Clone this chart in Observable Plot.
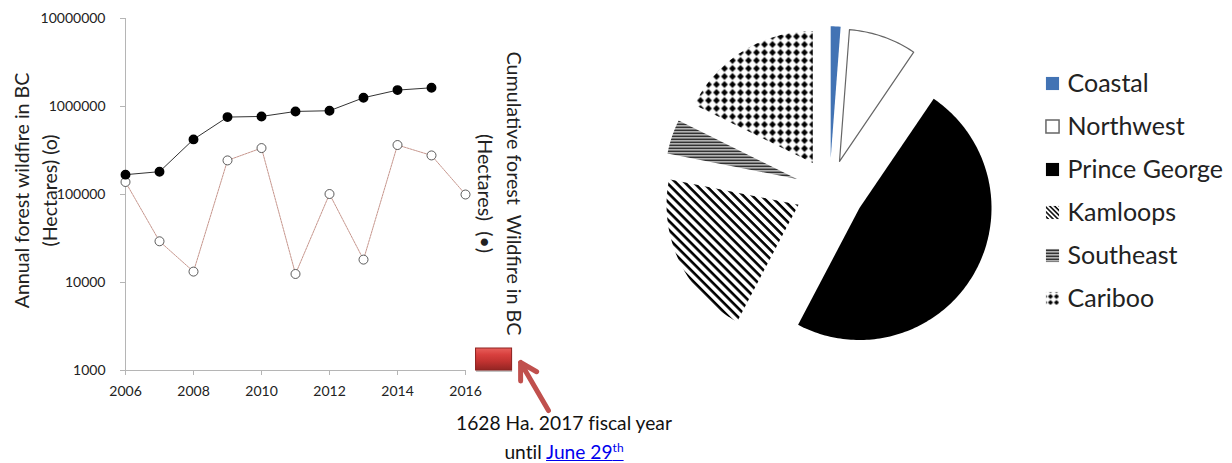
<!DOCTYPE html>
<html><head><meta charset="utf-8">
<script src="https://cdn.jsdelivr.net/npm/d3@7"></script>
<script src="https://cdn.jsdelivr.net/npm/@observablehq/plot@0.6"></script>
<style>
html,body{margin:0;padding:0;background:#fff;width:1232px;height:463px;overflow:hidden;position:relative;font-family:Lato,sans-serif}
.abs{position:absolute}
.abs svg{display:block}
#note{left:404px;top:408px;width:320px;text-align:center;font-size:19.2px;line-height:29px;color:#111;font-variant-ligatures:none}
#note a{color:#0000ee}
#note sup{font-size:12px;line-height:0}
</style></head><body>
<div id="line" class="abs" style="left:0;top:0"></div>
<div id="pie" class="abs" style="left:640px;top:0"></div>
<div id="legend" class="abs" style="left:1030px;top:60px"></div>
<div id="note" class="abs">1628 Ha. 2017 fiscal year<br>until <a href="#">June 29<sup>th</sup></a></div>
<script>
const years=[2006,2007,2008,2009,2010,2011,2012,2013,2014,2015,2016];
const cumulative=[168000,181700,423000,758000,771000,879000,895000,1257000,1536000,1632000];
const annual=[138700,29400,13300,244000,337000,12500,101300,18200,365000,278000,100000];
const regions=["Coastal","Northwest","Prince George","Kamloops","Southeast","Cariboo"];
const shares=[1.2,8.3,48.2,20.4,4.2,17.7];
const explode=[.24,.23,.265,.26,.26,.24];
const fills=["#4273b4","#fff","#000","url(#pKam)","url(#pSE)","url(#pCar)"];
const legendFills=["#4273b4","#fff","#000","url(#pKamS)","url(#pSE)","url(#pCarS)"];
const strokes=["none","#666","none","none","none","none"];
const yTicks=[1000,10000,100000,1000000,10000000];
const xTicks=[2006,2008,2010,2012,2014,2016];
const FONT="Lato,sans-serif";

const cumData=cumulative.map((v,i)=>({x:years[i],y:v}));
const annData=annual.map((v,i)=>({x:years[i],y:v}));

const gradDefs=()=>{
  const d=d3.create("svg:defs");
  d.html(`<linearGradient id="gRed" x1="0" y1="0" x2="0" y2="1">
    <stop offset="0" stop-color="#e8605c"/><stop offset=".3" stop-color="#d8403e"/>
    <stop offset=".6" stop-color="#c23331"/><stop offset="1" stop-color="#932523"/></linearGradient>`);
  return d.node();
};

document.getElementById("line").append(Plot.plot({
  width:640,height:463,marginLeft:125,marginRight:175,marginTop:18,marginBottom:93,
  style:{fontFamily:FONT,fontSize:"14px",background:"transparent",overflow:"visible"},
  x:{domain:[2006,2016],label:null},
  y:{type:"log",domain:[1000,10000000],label:null},
  marks:[
    gradDefs,
    Plot.ruleX([2006],{stroke:"#b5b5b5"}),
    Plot.ruleY([1000],{stroke:"#b5b5b5"}),
    Plot.axisX({ticks:xTicks,tickFormat:"d",tickSize:5,tickPadding:11,stroke:"#b5b5b5",fill:"#222",label:null}),
    Plot.axisY({ticks:yTicks,tickFormat:"d",tickSize:5,tickPadding:15,stroke:"#b5b5b5",fill:"#222",label:null}),
    Plot.line(annData,{x:"x",y:"y",stroke:"#c08a80",strokeWidth:.9,strokeDasharray:"2 1"}),
    Plot.line(cumData,{x:"x",y:"y",stroke:"#333",strokeWidth:1}),
    Plot.dot(annData,{x:"x",y:"y",r:4.5,fill:"#fff",stroke:"#333",strokeWidth:.8}),
    Plot.dot(cumData,{x:"x",y:"y",r:4.2,fill:"#000",stroke:"#000"}),
    Plot.rect([{x1:2016.31,x2:2017.37,y1:1000,y2:1778}],{x1:"x1",x2:"x2",y1:"y1",y2:"y2",fill:"#999",fillOpacity:.6,dy:2,dx:0.5}),
    Plot.rect([{x1:2016.31,x2:2017.37,y1:1000,y2:1778}],{x1:"x1",x2:"x2",y1:"y1",y2:"y2",fill:"url(#gRed)",stroke:"#8f2220"}),
    Plot.arrow([{x1:2018.44,y1:351,x2:2017.62,y2:1233}],{x1:"x1",y1:"y1",x2:"x2",y2:"y2",stroke:"#c0504d",strokeWidth:5,headLength:12,bend:0}),
    Plot.text(["Annual forest wildfire in BC\n(Hectares) (o)"],{frameAnchor:"left",textAnchor:"middle",lineAnchor:"middle",dx:-91,dy:-4,rotate:-90,fontSize:19.6,lineHeight:1.43,fill:"#222"}),
    Plot.text(["Cumulative forest  Wildfire in BC\n(Hectares)  (•)"],{frameAnchor:"right",textAnchor:"middle",lineAnchor:"middle",dx:36,dy:-1,rotate:90,fontSize:19.7,lineHeight:1.43,fill:"#222"})
  ]
}));

// pie: wedge outlines in unit-radius coordinates from the shares
const total=d3.sum(shares);
let acc=0;
const wedgePts=[];
regions.forEach((r,i)=>{
  const a0=acc/total*2*Math.PI, a1=(acc+shares[i])/total*2*Math.PI; acc+=shares[i];
  const mid=(a0+a1)/2, ox=explode[i]*Math.sin(mid), oy=explode[i]*Math.cos(mid);
  const n=Math.max(2,Math.ceil((a1-a0)/0.02));
  wedgePts.push({region:r,i,x:ox,y:oy});
  for(let k=0;k<=n;k++){const a=a0+(a1-a0)*k/n;wedgePts.push({region:r,i,x:ox+Math.sin(a),y:oy+Math.cos(a)});}
  wedgePts.push({region:r,i,x:ox,y:oy});
});
const patDefs=()=>{
  const d=d3.create("svg:defs");
  d.html(`<pattern id="pKam" width="6.4" height="6.4" patternUnits="userSpaceOnUse" patternTransform="rotate(45)"><rect width="6.4" height="6.4" fill="#fff"/><rect width="6.4" height="2.6" fill="#000"/></pattern>
  <pattern id="pKamS" width="3.4" height="3.4" patternUnits="userSpaceOnUse" patternTransform="rotate(45)"><rect width="3.4" height="3.4" fill="#fff"/><rect width="3.4" height="1.5" fill="#000"/></pattern>
  <pattern id="pSE" width="3" height="3" patternUnits="userSpaceOnUse"><rect width="3" height="3" fill="#fff"/><rect width="3" height="1.6" fill="#000"/></pattern>
  <pattern id="pCar" width="8" height="8" patternUnits="userSpaceOnUse"><rect width="8" height="8" fill="#fff"/><path d="M4 .6L7.4 4L4 7.4L.6 4Z" fill="#000"/></pattern>
  <pattern id="pCarS" width="6" height="6" patternUnits="userSpaceOnUse" x="1" y="1"><rect width="6" height="6" fill="#fff"/><path d="M3 .4L5.6 3L3 5.6L.4 3Z" fill="#000"/></pattern>`);
  return d.node();
};
const R=132,W=592,H=463,cx=189,cy=189.5;
document.getElementById("pie").append(Plot.plot({
  width:W,height:H,margin:0,axis:null,
  style:{background:"transparent"},
  x:{domain:[-cx/R,(W-cx)/R]},
  y:{domain:[-(H-cy)/R,cy/R]},
  marks:[
    patDefs,
    Plot.line(wedgePts,{x:"x",y:"y",z:"region",curve:"linear",
      fill:{value:d=>fills[d.i],scale:null},stroke:{value:d=>strokes[d.i],scale:null},strokeWidth:1.2})
  ]
}));

document.getElementById("legend").append(Plot.plot({
  width:202,height:260,marginTop:22,marginBottom:22,marginLeft:0,marginRight:0,
  style:{background:"transparent",fontFamily:FONT},
  x:{axis:null},
  y:{type:"point",domain:regions,axis:null,padding:0},
  marks:[
    Plot.dot(regions,{y:d=>d,frameAnchor:"left",dx:22,symbol:"square",r:7.4,
      fill:{value:d=>legendFills[regions.indexOf(d)],scale:null},stroke:{value:d=>strokes[regions.indexOf(d)],scale:null}}),
    Plot.text(regions,{y:d=>d,text:d=>d,frameAnchor:"left",dx:37,textAnchor:"start",fontSize:25,fill:"#222"})
  ]
}));
</script></body></html>
